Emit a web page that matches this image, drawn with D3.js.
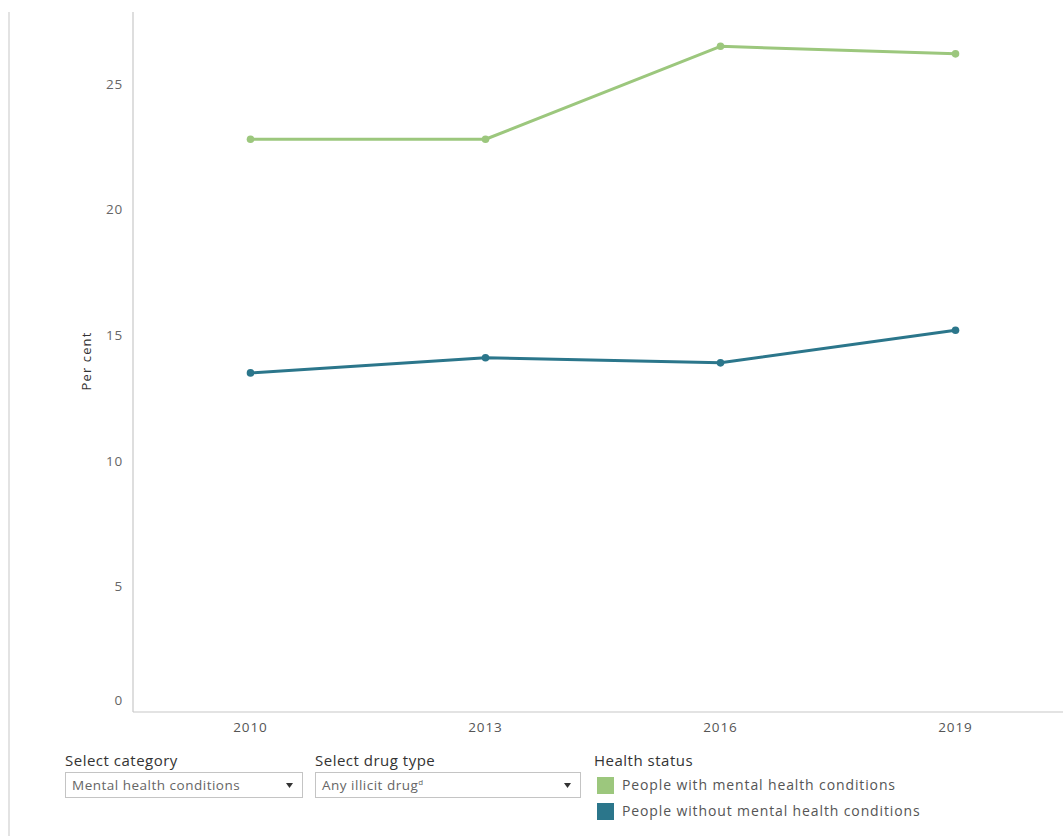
<!DOCTYPE html>
<html>
<head>
<meta charset="utf-8">
<script src="https://cdn.jsdelivr.net/npm/d3@7"></script>
<style>
  html, body { margin: 0; padding: 0; background: #fff; }
  svg { display: block; }
  text { font-family: "Open Sans", "DejaVu Sans", sans-serif; }
</style>
</head>
<body>
<svg id="chart" width="1063" height="836"></svg>
<script>
const years = ["2010", "2013", "2016", "2019"];
const withMental = [22.8, 22.8, 26.5, 26.2];
const withoutMental = [13.5, 14.1, 13.9, 15.2];
const yTicks = [0, 5, 10, 15, 20, 25];
const seriesNames = ["People with mental health conditions", "People without mental health conditions"];
const seriesColors = ["#9cc77d", "#2b768b"];
const yLabel = "Per cent";
const categoryLabel = "Select category";
const categoryValue = "Mental health conditions";
const drugLabel = "Select drug type";
const drugValue = "Any illicit drug";
const legendTitle = "Health status";

const svg = d3.select("#chart");

// left border
svg.append("line").attr("x1", 9).attr("x2", 9).attr("y1", 12).attr("y2", 836)
  .attr("stroke", "#e3e3e3").attr("stroke-width", 2);

const x = d3.scalePoint().domain(years).range([133, 1073]).padding(0.5);
const y = d3.scaleLinear().domain([0, 25]).range([712, 84]);

// axes lines
svg.append("line").attr("x1", 133).attr("x2", 133).attr("y1", 12).attr("y2", y(0))
  .attr("stroke", "#c8c8c8").attr("stroke-width", 1.2);
svg.append("line").attr("x1", 133).attr("x2", 1063).attr("y1", y(0)).attr("y2", y(0))
  .attr("stroke", "#c8c8c8").attr("stroke-width", 1.2);

// y tick labels
svg.append("g").selectAll("text").data(yTicks).join("text")
  .attr("x", 123)
  .attr("y", d => d === 0 ? y(0) - 12 : y(d))
  .attr("dy", "0.35em")
  .attr("text-anchor", "end")
  .attr("font-size", 13.5)
  .attr("letter-spacing", 0.8)
  .attr("fill", "#666")
  .text(d => d);

// x tick labels
svg.append("g").selectAll("text").data(years).join("text")
  .attr("x", d => x(d))
  .attr("y", 732)
  .attr("text-anchor", "middle")
  .attr("font-size", 13.5)
  .attr("letter-spacing", 0.9)
  .attr("fill", "#555")
  .text(d => d);

// y label
svg.append("text")
  .attr("transform", "translate(91,361) rotate(-90)")
  .attr("text-anchor", "middle")
  .attr("font-size", 13)
  .attr("letter-spacing", 1.1)
  .attr("fill", "#333")
  .text(yLabel);

const series = [withMental, withoutMental];
const line = d3.line().x((d, i) => x(years[i])).y(d => y(d));
series.forEach((vals, si) => {
  svg.append("path").datum(vals)
    .attr("d", line)
    .attr("fill", "none")
    .attr("stroke", seriesColors[si])
    .attr("stroke-width", 3)
    .attr("stroke-linejoin", "round");
  svg.append("g").selectAll("circle").data(vals).join("circle")
    .attr("cx", (d, i) => x(years[i]))
    .attr("cy", d => y(d))
    .attr("r", 3.8)
    .attr("fill", seriesColors[si]);
});

// controls
function dropdown(x0, w, label, value, sup) {
  svg.append("text").attr("x", x0).attr("y", 766).attr("font-size", 15)
    .attr("letter-spacing", 0.5).attr("fill", "#333").text(label);
  svg.append("rect").attr("x", x0 + 0.5).attr("y", 772.5).attr("width", w).attr("height", 25)
    .attr("fill", "#fff").attr("stroke", "#c4c4c4");
  const t = svg.append("text").attr("x", x0 + 7).attr("y", 790).attr("font-size", 13.5)
    .attr("letter-spacing", 0.5).attr("fill", "#666").text(value);
  if (sup) t.append("tspan").attr("font-size", 8).attr("dy", -5).text(sup);
  svg.append("path")
    .attr("d", `M${x0 + w - 16},783 l7,0 l-3.5,5 z`)
    .attr("fill", "#333");
}
dropdown(65, 237, categoryLabel, categoryValue, null);
dropdown(315, 265, drugLabel, drugValue, "d");

// legend
svg.append("text").attr("x", 594).attr("y", 766).attr("font-size", 15)
  .attr("letter-spacing", 0.5).attr("fill", "#333").text(legendTitle);
const lg = svg.append("g").selectAll("g").data(seriesNames).join("g")
  .attr("transform", (d, i) => `translate(597,${777 + i * 26})`);
lg.append("rect").attr("width", 17).attr("height", 17).attr("fill", (d, i) => seriesColors[i]);
lg.append("text").attr("x", 25).attr("y", 13).attr("font-size", 14)
  .attr("letter-spacing", 0.88).attr("fill", "#555").text(d => d);
</script>
</body>
</html>
